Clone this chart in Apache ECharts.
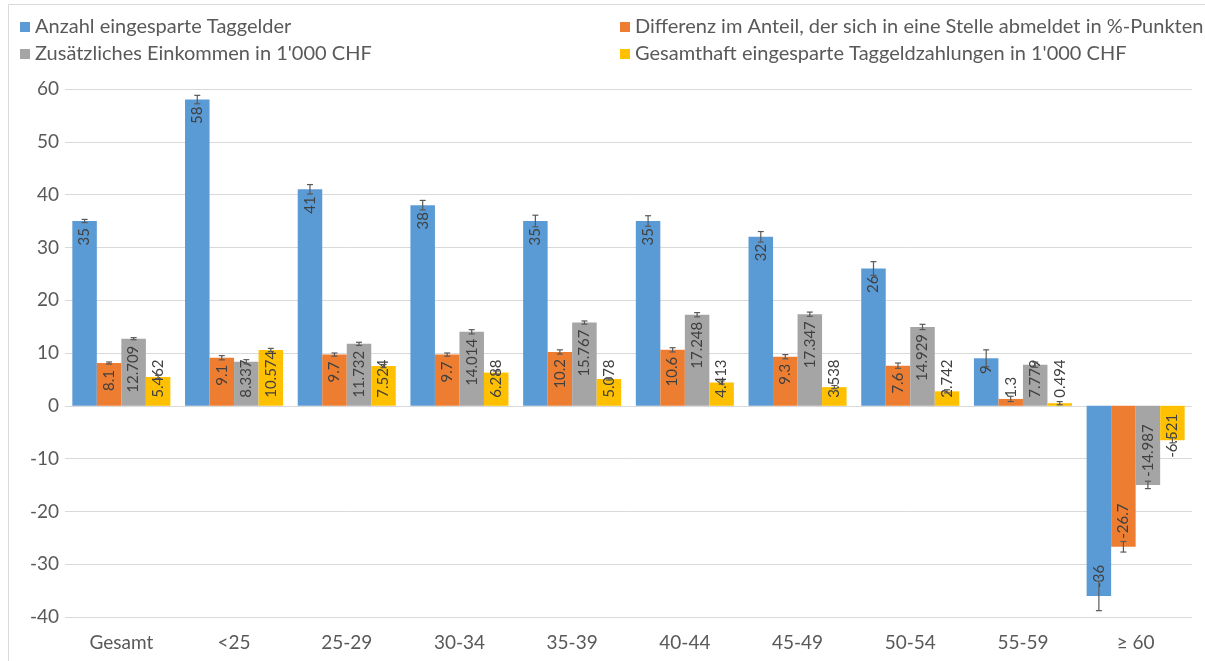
<!DOCTYPE html>
<html>
<head>
<meta charset="utf-8">
<script src="https://cdn.jsdelivr.net/npm/echarts@6/dist/echarts.min.js"></script>
<style>
  html, body { margin: 0; padding: 0; background: #ffffff; }
  #chart { width: 1205px; height: 661px; }
</style>
</head>
<body>
<div id="chart"></div>
<script>
// Age groups on the category axis
const categories = ['Gesamt', '<25', '25-29', '30-34', '35-39', '40-44', '45-49', '50-54', '55-59', '≥ 60'];

// Series names (legend)
const nameTaggelder = 'Anzahl eingesparte Taggelder';
const nameDifferenz = 'Differenz im Anteil, der sich in eine Stelle abmeldet in %-Punkten';
const nameEinkommen = "Zusätzliches Einkommen in 1'000 CHF";
const nameZahlungen = "Gesamthaft eingesparte Taggeldzahlungen in 1'000 CHF";

// Values per age group
const taggelder = [35, 58, 41, 38, 35, 35, 32, 26, 9, -36];
const differenz = [8.1, 9.1, 9.7, 9.7, 10.2, 10.6, 9.3, 7.6, 1.3, -26.7];
const einkommen = [12.709, 8.337, 11.732, 14.014, 15.767, 17.248, 17.347, 14.929, 7.779, -14.987];
const zahlungen = [5.462, 10.574, 7.524, 6.288, 5.078, 4.413, 3.538, 2.742, 0.494, -6.521];

// Half-widths of the error bars
const errTaggelder = [0.3, 0.8, 0.9, 0.9, 1.1, 1.0, 1.0, 1.3, 1.6, 2.8];
const errDifferenz = [0.2, 0.4, 0.3, 0.3, 0.4, 0.4, 0.4, 0.5, 0.5, 1.0];
const errEinkommen = [0.2, 0.4, 0.3, 0.4, 0.3, 0.4, 0.4, 0.5, 0.5, 0.7];
const errZahlungen = [0.3, 0.3, 0.3, 0.3, 0.2, 0.3, 0.3, 0.3, 0.3, 0.5];

// Value axis range
const yMin = -40;
const yMax = 60;
const yStep = 10;

const colors = ['#5B9BD5', '#ED7D31', '#A5A5A5', '#FFC000'];
const FONT = 'Lato';
const TEXT_GRAY = '#595959';
const GRID_GRAY = '#D9D9D9';
const CATEGORY_GAP = 0.13;

const seriesValues = [taggelder, differenz, einkommen, zahlungen];
const seriesErrors = [errTaggelder, errDifferenz, errEinkommen, errZahlungen];
const seriesNames = [nameTaggelder, nameDifferenz, nameEinkommen, nameZahlungen];

// Rotated value labels sit at the outer end of each bar, pulled back
// toward the baseline when the bar is too short for the text.
function labelLayout(params) {
  const r = params.rect;
  const len = params.labelRect.height;
  const top = Math.min(r.y, r.y + r.height);
  const bottom = Math.max(r.y, r.y + r.height);
  const v = seriesValues[params.seriesIndex][params.dataIndex];
  let anchor;
  if (v >= 0) {
    anchor = Math.min(top + 7 + len, bottom - 8);
  } else {
    anchor = Math.max(bottom - 8, top + 8 + len);
  }
  return { x: r.x + r.width / 2, y: anchor, align: 'left', verticalAlign: 'middle' };
}

function barSeries(i) {
  return {
    type: 'bar',
    name: seriesNames[i],
    data: seriesValues[i],
    itemStyle: { color: colors[i] },
    barGap: '0%',
    barCategoryGap: (CATEGORY_GAP * 100) + '%',
    z: 2,
    label: {
      show: true,
      rotate: 90,
      fontFamily: FONT,
      fontSize: 15,
      color: '#404040'
    },
    labelLayout: labelLayout
  };
}

// Error bars centred on each bar of series i
function errorSeries(i) {
  const vals = seriesValues[i];
  const errs = seriesErrors[i];
  return {
    type: 'custom',
    silent: true,
    z: 5,
    encode: { x: 0, y: [1, 2] },
    data: vals.map((v, k) => [k, v - errs[k], v + errs[k]]),
    renderItem: function (params, api) {
      const cat = api.value(0);
      const lo = api.coord([cat, api.value(1)]);
      const hi = api.coord([cat, api.value(2)]);
      const band = api.size([1, 0])[0];
      const barW = band * (1 - CATEGORY_GAP) / 4;
      const x = lo[0] + (i - 1.5) * barW;
      const cap = 3;
      const st = { stroke: '#595959', lineWidth: 1.2 };
      return {
        type: 'group',
        children: [
          { type: 'line', shape: { x1: x, y1: lo[1], x2: x, y2: hi[1] }, style: st },
          { type: 'line', shape: { x1: x - cap, y1: lo[1], x2: x + cap, y2: lo[1] }, style: st },
          { type: 'line', shape: { x1: x - cap, y1: hi[1], x2: x + cap, y2: hi[1] }, style: st }
        ]
      };
    }
  };
}

const legendText = { color: TEXT_GRAY, fontFamily: FONT, fontSize: 20, lineHeight: 20 };

const option = {
  backgroundColor: '#ffffff',
  animation: false,
  color: colors,
  graphic: [{
    type: 'polyline',
    silent: true,
    shape: { points: [[8.5, 661], [8.5, 4.5], [1205, 4.5]] },
    style: { stroke: GRID_GRAY, fill: null, lineWidth: 1 }
  }],
  legend: [
    {
      left: 20, top: 17, orient: 'vertical', padding: 0,
      icon: 'rect', itemWidth: 10, itemHeight: 10, itemGap: 7,
      data: [nameTaggelder, nameEinkommen],
      textStyle: legendText
    },
    {
      left: 620, top: 17, orient: 'vertical', padding: 0,
      icon: 'rect', itemWidth: 10, itemHeight: 10, itemGap: 7,
      data: [nameDifferenz, nameZahlungen],
      textStyle: legendText
    }
  ],
  grid: { left: 65, right: 13, top: 89, bottom: 44, containLabel: false },
  xAxis: {
    type: 'category',
    data: categories,
    axisLine: { show: false, onZero: false },
    axisTick: { show: false },
    axisLabel: { color: TEXT_GRAY, fontFamily: FONT, fontSize: 19, margin: 16 }
  },
  yAxis: {
    type: 'value',
    min: yMin, max: yMax, interval: yStep,
    axisLine: { show: false },
    axisTick: { show: false },
    splitLine: { lineStyle: { color: GRID_GRAY, width: 1 } },
    axisLabel: { color: TEXT_GRAY, fontFamily: FONT, fontSize: 19, margin: 6 }
  },
  series: [0, 1, 2, 3].map(barSeries).concat([0, 1, 2, 3].map(errorSeries))
};

const chart = echarts.init(document.getElementById('chart'), null, { renderer: 'canvas' });
chart.setOption(option);
</script>
</body>
</html>
